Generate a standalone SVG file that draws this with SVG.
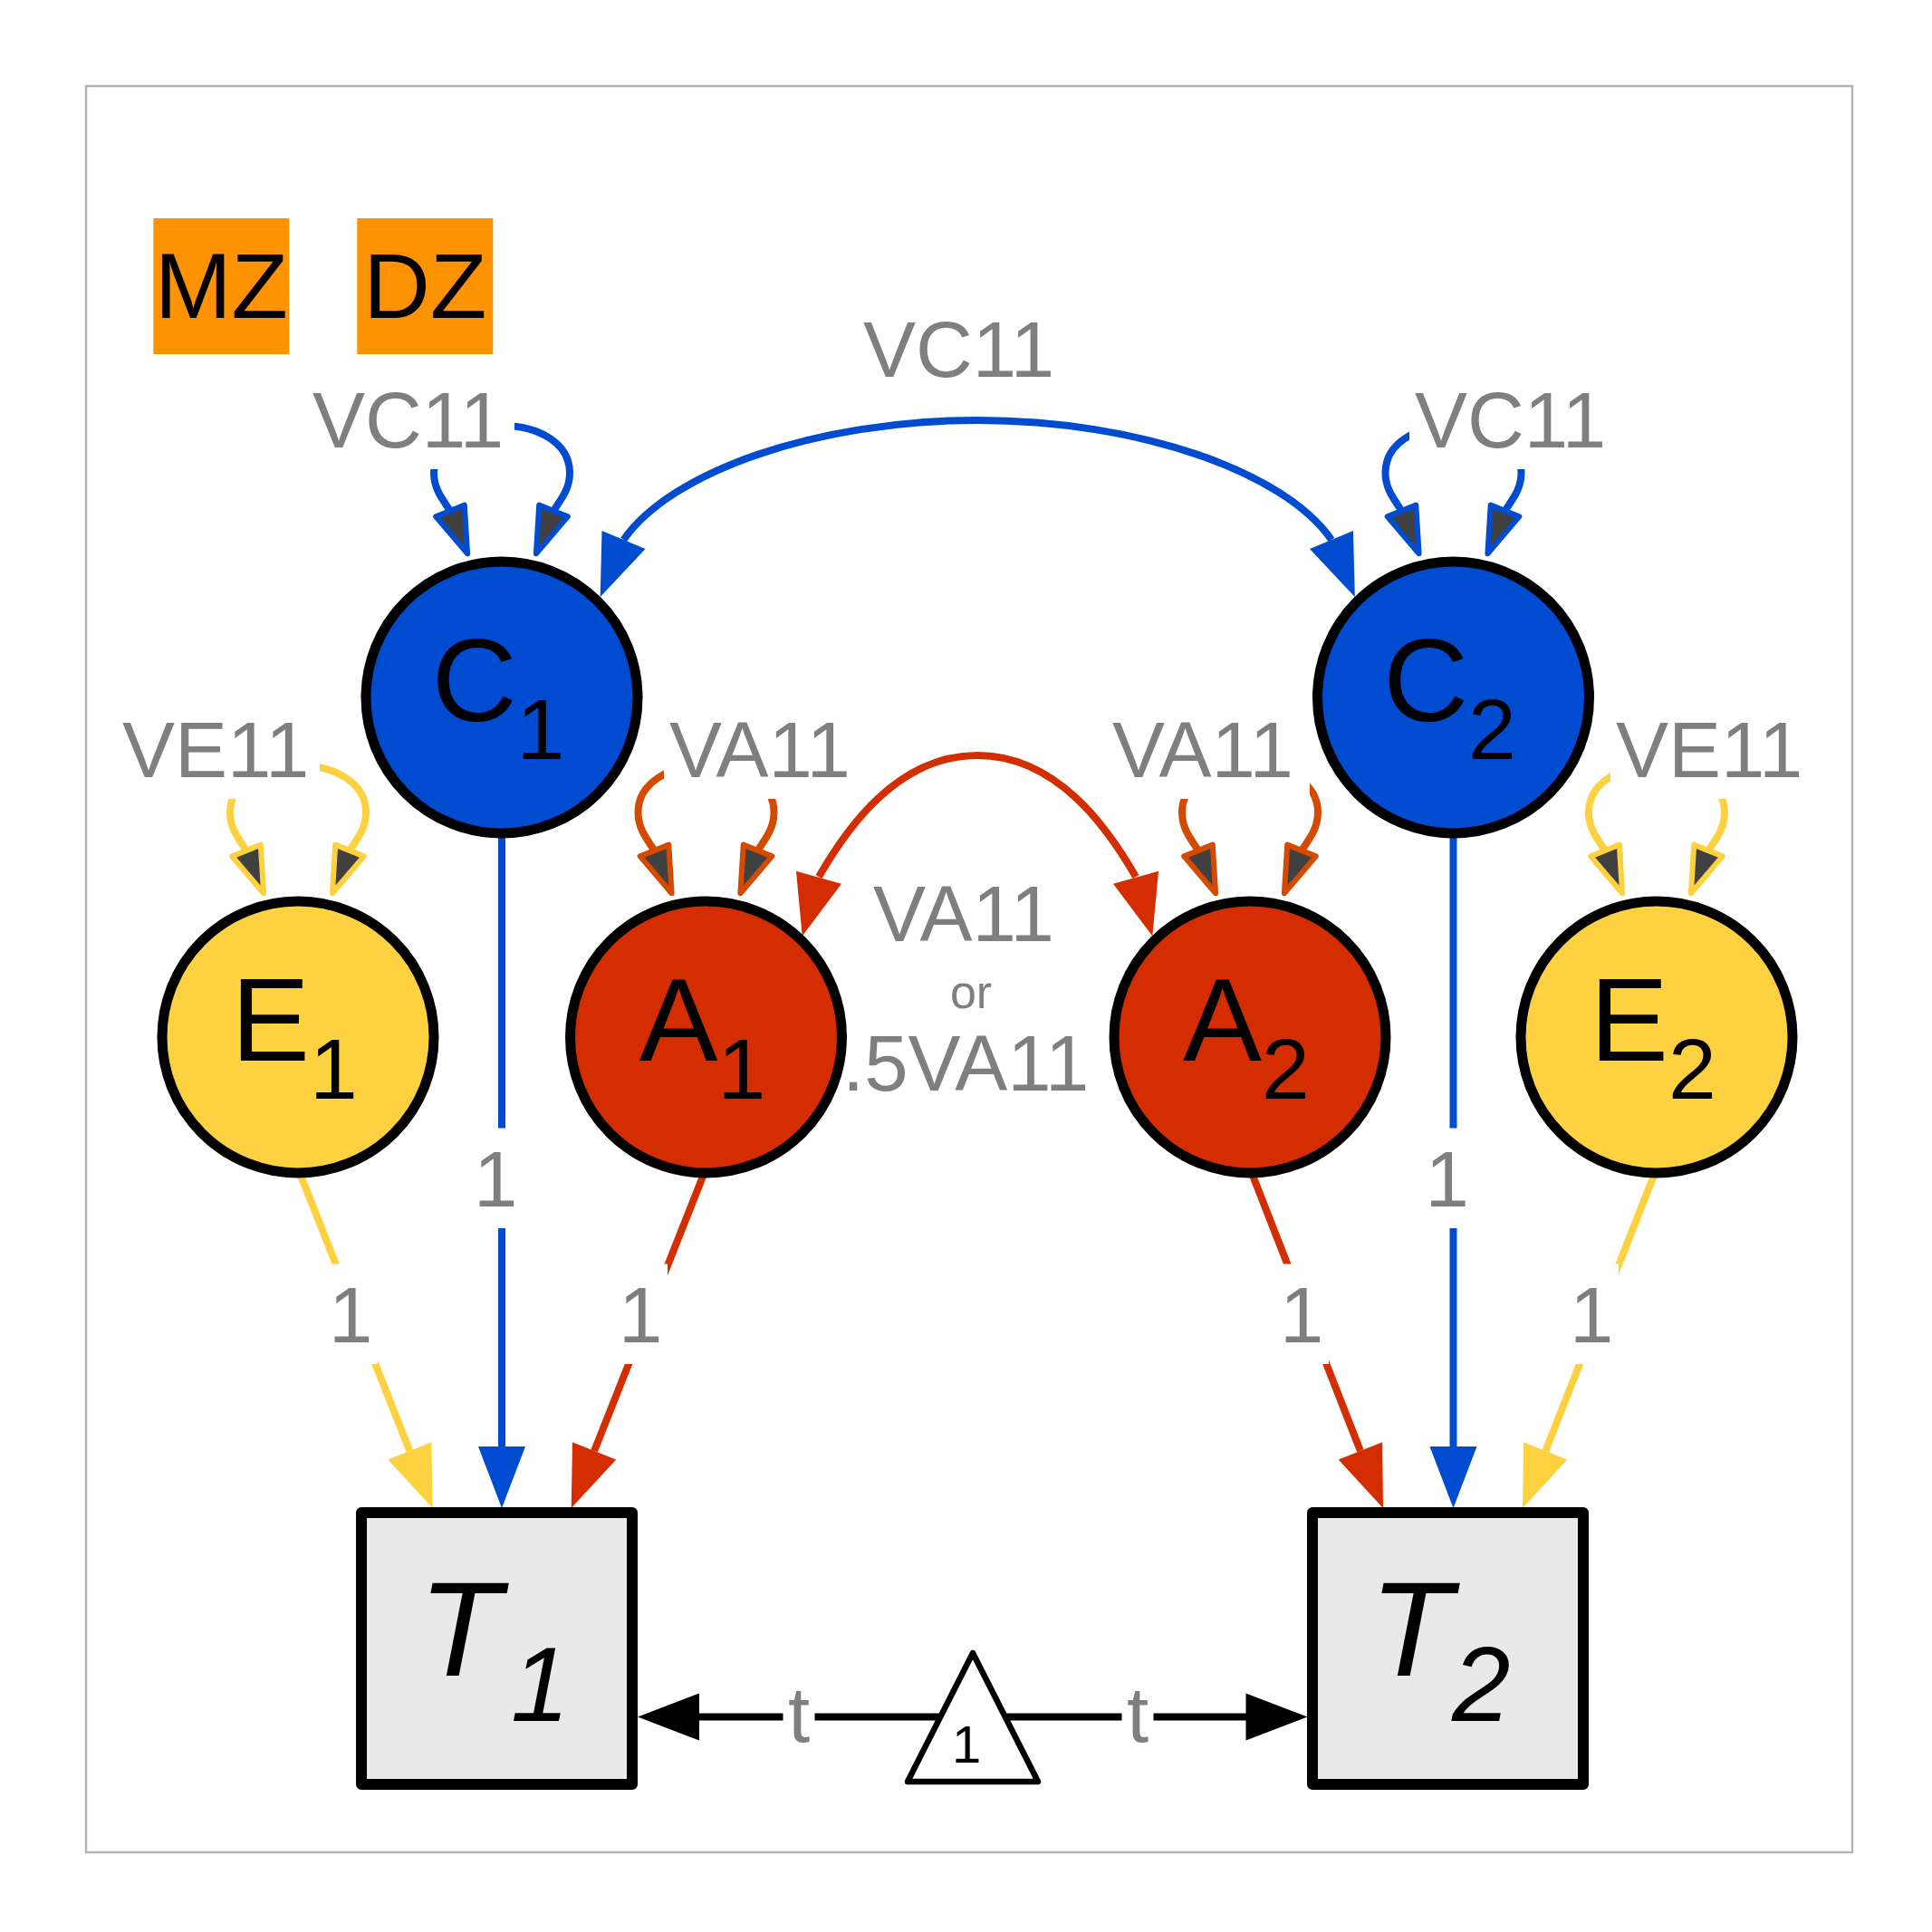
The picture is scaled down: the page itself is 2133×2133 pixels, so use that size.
<svg xmlns="http://www.w3.org/2000/svg" width="2133" height="2133" viewBox="0 0 2133 2133">
<style>
.lbl{font-family:"Liberation Sans",Arial,Helvetica,sans-serif;font-size:87px;fill:#7f7f7f}
.bg{fill:#ffffff}
.node{stroke:#000;stroke-width:11}
.nl{font-family:"Liberation Sans",Arial,Helvetica,sans-serif;font-size:130px;fill:#000;text-anchor:middle}
.sub{font-size:95px}
.tl{font-family:"Liberation Sans",Arial,Helvetica,sans-serif;font-size:149px;font-style:italic;fill:#000}
.ln{fill:none;stroke-width:8}
.lh{fill:#404040;stroke-width:6;stroke-linejoin:round}
.b{stroke:#004cd1}.bf{fill:#004cd1}
.r{stroke:#d42d00}.rf{fill:#d42d00}
.o{stroke:#d44a00}
.y{stroke:#fed140}.yf{fill:#fed140}
.k{stroke:#000}.kf{fill:#000}
.grp{font-family:"Liberation Sans",Arial,Helvetica,sans-serif;font-size:102px;fill:#000;text-anchor:middle}
</style>
<defs>
<path id="loopPath" d="M-57,-206 C-68,-222 -75,-232 -75,-248 C-75,-280 -42,-300 0,-300 C42,-300 75,-280 75,-248 C75,-232 68,-222 57,-206"/>
<g id="loopBlue"><use href="#loopPath" class="ln b"/><polygon class="lh b" points="-72.8,-199.6 -41.2,-212.4 -37.9,-158.7"/><polygon class="lh b" points="72.8,-199.6 41.2,-212.4 37.9,-158.7"/></g>
<g id="loopRed"><use href="#loopPath" class="ln o"/><polygon class="lh o" points="-72.8,-199.6 -41.2,-212.4 -37.9,-158.7"/><polygon class="lh o" points="72.8,-199.6 41.2,-212.4 37.9,-158.7"/></g>
<g id="loopYel"><use href="#loopPath" class="ln y"/><polygon class="lh y" points="-72.8,-199.6 -41.2,-212.4 -37.9,-158.7"/><polygon class="lh y" points="72.8,-199.6 41.2,-212.4 37.9,-158.7"/></g>
</defs>
<rect x="0" y="0" width="2133" height="2133" fill="#ffffff"/>
<rect x="95" y="95" width="1950" height="1950" fill="none" stroke="#b3b3b3" stroke-width="2.5"/>
<g id="groups">
<rect x="169.3" y="241" width="150" height="150" fill="#ff9200"/>
<text class="grp" x="244.3" y="350.7">MZ</text>
<rect x="394.3" y="241" width="150" height="150" fill="#ff9200"/>
<text class="grp" x="469.3" y="350.7">DZ</text>
</g>
<g id="connectors">
<path class="ln b" d="M688.5,596 C740.5,521 900.5,464 1079.25,464 C1258,464 1418,521 1470,596"/>
<polygon class="bf" points="662.7,658.9 664.5,586.1 712.5,605.9"/>
<polygon class="bf" points="1495.8,658.9 1494,586.1 1446,605.9"/>
<path class="ln r" d="M904,968 C934,916 990,834 1079,834 C1168,834 1224,916 1254,968"/>
<polygon class="rf" points="885.7,1033.5 879,961.7 929,975.7"/>
<polygon class="rf" points="1272.3,1033.5 1279,961.7 1229,975.7"/>
<use href="#loopBlue" x="554" y="770"/>
<use href="#loopBlue" x="1604.5" y="770"/>
<use href="#loopRed" x="779.5" y="1145"/>
<use href="#loopRed" x="1380" y="1145"/>
<use href="#loopYel" x="329" y="1145"/>
<use href="#loopYel" x="1829" y="1145"/>
<path class="ln b" d="M554,900 V1600"/>
<polygon class="bf" points="554,1665 528,1597 580,1597"/>
<path class="ln y" d="M329,1290 L452.3,1601.9"/>
<polygon class="yf" points="477.6,1665 476.4,1592.2 428.2,1611.6"/>
<path class="ln r" d="M779.5,1290 L656.1,1601.9"/>
<polygon class="rf" points="630.7,1665 680.2,1611.6 632,1592.2"/>
<path class="ln r" d="M1380,1290 L1501.9,1601.8"/>
<polygon class="rf" points="1527,1665 1526.1,1592.2 1477.7,1611.4"/>
<path class="ln b" d="M1604.5,900 V1600"/>
<polygon class="bf" points="1604.5,1665 1578.5,1597 1630.5,1597"/>
<path class="ln y" d="M1829,1290 L1706.3,1601.9"/>
<polygon class="yf" points="1681,1665 1730.4,1611.6 1682.2,1592.2"/>
<path class="ln k" d="M1074,1895.5 H770"/>
<polygon class="kf" points="704,1895.5 772,1869.5 772,1921.5"/>
<path class="ln k" d="M1074,1895.5 H1378"/>
<polygon class="kf" points="1443.5,1895.5 1375.5,1869.5 1375.5,1921.5"/>
</g>
<g id="labels">
<text class="lbl" x="953" y="416">VC11</text>
<rect class="bg" x="339" y="407.5" width="229" height="110.5"/>
<text class="lbl" x="345" y="494">VC11</text>
<rect class="bg" x="1556" y="407.5" width="229" height="110.5"/>
<text class="lbl" x="1562" y="494">VC11</text>
<rect class="bg" x="129" y="771.5" width="224" height="110.5"/>
<text class="lbl" x="135" y="858">VE11</text>
<rect class="bg" x="1778" y="771.5" width="224" height="110.5"/>
<text class="lbl" x="1784" y="858">VE11</text>
<rect class="bg" x="733" y="771.5" width="224" height="110.5"/>
<text class="lbl" x="739" y="858">VA11</text>
<rect class="bg" x="1222" y="771.5" width="224" height="110.5"/>
<text class="lbl" x="1228" y="858">VA11</text>
<text class="lbl" x="964" y="1039">VA11</text>
<text class="lbl" x="1072" y="1113" style="font-size:52px" text-anchor="middle">or</text>
<text class="lbl" x="930" y="1204">.5VA11</text>
<rect class="bg" x="517" y="1245.5" width="60" height="110.5"/>
<text class="lbl" x="523" y="1332">1</text>
<rect class="bg" x="1567.6" y="1245.5" width="60" height="110.5"/>
<text class="lbl" x="1573.6" y="1332">1</text>
<rect class="bg" x="357" y="1395.5" width="60" height="110.5"/>
<text class="lbl" x="363" y="1482">1</text>
<rect class="bg" x="677" y="1395.5" width="60" height="110.5"/>
<text class="lbl" x="683" y="1482">1</text>
<rect class="bg" x="1407" y="1395.5" width="60" height="110.5"/>
<text class="lbl" x="1413" y="1482">1</text>
<rect class="bg" x="1727" y="1395.5" width="60" height="110.5"/>
<text class="lbl" x="1733" y="1482">1</text>
<rect class="bg" x="864.5" y="1836.5" width="35" height="110.5"/>
<text class="lbl" x="882" y="1923" text-anchor="middle">t</text>
<rect class="bg" x="1238.5" y="1836.5" width="35" height="110.5"/>
<text class="lbl" x="1256" y="1923" text-anchor="middle">t</text>
</g>
<g id="C1"><circle class="node" cx="554" cy="770" r="150" fill="#004cd1"/><text class="nl" x="550" y="796">C<tspan class="sub" dy="42">1</tspan></text></g>
<g id="C2"><circle class="node" cx="1604.5" cy="770" r="150" fill="#004cd1"/><text class="nl" x="1600.5" y="796">C<tspan class="sub" dy="42">2</tspan></text></g>
<g id="E1"><circle class="node" cx="329" cy="1145" r="150" fill="#fed140"/><text class="nl" x="325" y="1171">E<tspan class="sub" dy="42">1</tspan></text></g>
<g id="A1"><circle class="node" cx="779.5" cy="1145" r="150" fill="#d42d00"/><text class="nl" x="775.5" y="1171">A<tspan class="sub" dy="42">1</tspan></text></g>
<g id="A2"><circle class="node" cx="1380" cy="1145" r="150" fill="#d42d00"/><text class="nl" x="1376" y="1171">A<tspan class="sub" dy="42">2</tspan></text></g>
<g id="E2"><circle class="node" cx="1829" cy="1145" r="150" fill="#fed140"/><text class="nl" x="1825" y="1171">E<tspan class="sub" dy="42">2</tspan></text></g>
<g id="T1"><rect x="399" y="1670" width="299" height="300" fill="#e9e9e9" stroke="#000" stroke-width="12" stroke-linejoin="round"/><text class="tl" x="462" y="1850">T<tspan font-size="116" dx="11" dy="50">1</tspan></text></g>
<g id="T2"><rect x="1449" y="1670" width="299" height="300" fill="#e9e9e9" stroke="#000" stroke-width="12" stroke-linejoin="round"/><text class="tl" x="1512" y="1850">T<tspan font-size="116" dy="50">2</tspan></text></g>
<g id="one"><polygon points="1074,1825 1146,1967 1002,1967" fill="#ffffff" stroke="#000" stroke-width="6.5" stroke-linejoin="round"/><text x="1051" y="1946" font-family="Liberation Sans, Arial, sans-serif" font-size="58" fill="#000">1</text></g>
</svg>
